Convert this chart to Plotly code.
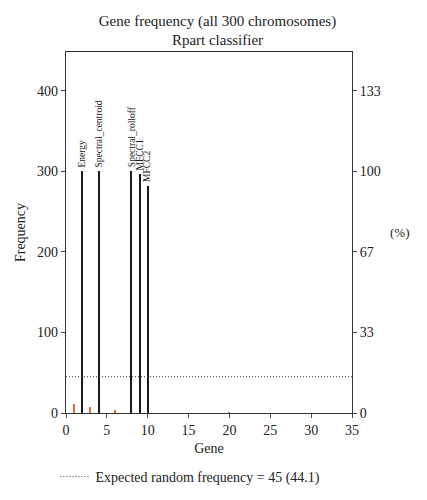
import plotly.graph_objects as go

genes = [1, 2, 3, 4, 6, 8, 9, 10, 20]
freq = [11.5, 300, 7, 300, 3.3, 300, 296, 282, 1]
labels = ["", "Energy", "", "Spectral_centroid", "", "Spectral_rolloff", "MFCC1", "MFCC2", ""]
expected = 45
n_chrom = 300
x_ticks = [0, 5, 10, 15, 20, 25, 30, 35]
y_ticks = [0, 100, 200, 300, 400]

FONT = "Liberation Serif"
colors = ["#1a1a1a" if f > expected else "#e8643a" for f in freq]

fig = go.Figure()
fig.add_trace(go.Bar(x=genes, y=freq, width=0.13, marker=dict(color=colors, line=dict(width=0)),
                     showlegend=False, hoverinfo="x+y"))
fig.add_trace(go.Scatter(x=[0, 35], y=[expected, expected], mode="lines",
                         line=dict(color="#333333", width=1, dash="1px,2px"),
                         name="Expected random frequency = 45 (44.1)", showlegend=True))
# invisible trace for the right axis
fig.add_trace(go.Scatter(x=[0], y=[0], yaxis="y2", mode="markers", marker=dict(opacity=0),
                         showlegend=False, hoverinfo="skip"))

for g, f, lab in zip(genes, freq, labels):
    if lab:
        fig.add_annotation(x=g, y=f, text=lab, textangle=-90, showarrow=False,
                           xanchor="center", yanchor="bottom", yshift=2,
                           font=dict(family=FONT, size=9.5, color="#222222"))

fig.add_annotation(x=1.168, y=0.5, xref="paper", yref="paper", text="(%)", showarrow=False,
                   xanchor="center", yanchor="middle",
                   font=dict(family=FONT, size=13, color="#222222"))

ymax = 448
fig.update_layout(
    width=419, height=492,
    margin=dict(l=58, r=75, t=44, b=87, autoexpand=False),
    paper_bgcolor="white", plot_bgcolor="white",
    font=dict(family=FONT, size=14, color="#222222"),
    title=dict(text="Gene frequency (all 300 chromosomes)<br>Rpart classifier",
               x=0.5, xanchor="center", y=0.9636, yanchor="top",
               font=dict(family=FONT, size=15, color="#222222")),
    bargap=0,
    xaxis=dict(range=[0, 35], tickvals=x_ticks, ticks="outside", ticklen=4,
               showline=True, linecolor="#333333", linewidth=1.2, mirror=True,
               showgrid=False, zeroline=False,
               title=dict(text="Gene", font=dict(family=FONT, size=14), standoff=6)),
    yaxis=dict(range=[0, ymax], tickvals=y_ticks, ticks="outside", ticklen=4,
               showline=True, linecolor="#333333", linewidth=1.2, mirror=True,
               showgrid=False, zeroline=False,
               title=dict(text="Frequency", font=dict(family=FONT, size=14), standoff=8)),
    yaxis2=dict(range=[0, ymax * 100 / n_chrom], overlaying="y", side="right",
                tickvals=[v * 100 / n_chrom for v in y_ticks],
                ticktext=[str(round(v * 100 / n_chrom)) for v in y_ticks],
                ticks="outside", ticklen=4, showgrid=False, zeroline=False, showline=False),
    legend=dict(orientation="h", x=-0.037, xanchor="left",
                yref="container", y=0.0467, yanchor="middle",
                font=dict(family=FONT, size=14), bgcolor="rgba(0,0,0,0)"),
)

fig.write_html("out.html")
